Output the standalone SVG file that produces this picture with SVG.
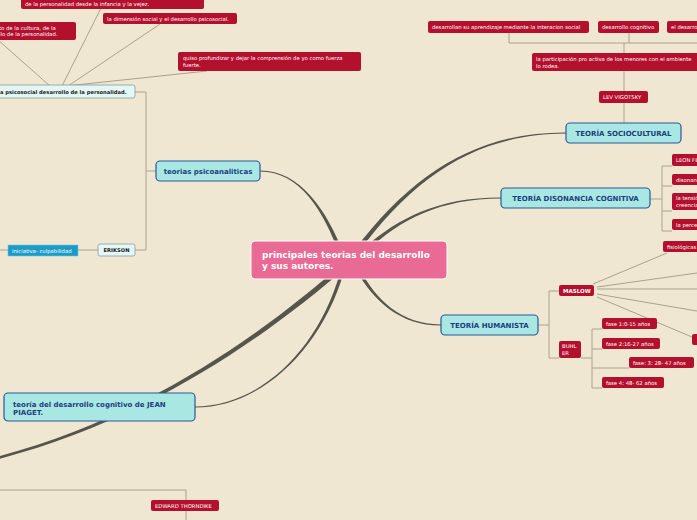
<svg xmlns="http://www.w3.org/2000/svg" width="697" height="520" viewBox="0 0 697 520">
<style>
.bg{fill:#efe7d2}
.ln{fill:none;stroke:#a8a290;stroke-width:1}
.mc{fill:#57554b;stroke:none}
.red{fill:#b3102e}
.rt{font-family:"DejaVu Sans",sans-serif;font-size:5.3px;fill:#ffffff}
.rtb{font-family:"DejaVu Sans",sans-serif;font-size:5.5px;fill:#ffffff;font-weight:bold}
.main{fill:#a9e7e3;stroke:#2b5797;stroke-width:1.2}
.mt{font-family:"DejaVu Sans",sans-serif;font-size:7px;font-weight:bold;fill:#1c3d80}
.ctr{fill:#e96a94;stroke:#ffffff;stroke-width:1}
.ct{font-family:"DejaVu Sans",sans-serif;font-size:9px;font-weight:bold;fill:#ffffff}
.lt{fill:#e2f7f6;stroke:#8a9ca2;stroke-width:0.8}
.lb{font-family:"DejaVu Sans",sans-serif;font-size:5.2px;font-weight:bold;fill:#1a1a1a}
</style>
<rect class="bg" x="0" y="0" width="697" height="520"/>
<g id="connectors">
  <path class="mc" d="M354.2,250.7 C413.7,171.1 480,132.1 566,132.4 L566,133.6 C480,134.0 416.3,172.9 357.8,253.3 Z"/>
  <path class="mc" d="M363.7,248.5 C399.1,217.0 440,197.2 501,197.5 L501,198.5 C440,198.8 400.9,219.0 366.3,251.5 Z"/>
  <path class="mc" d="M356.4,270.9 C374.0,300.6 400,325.7 441,325.5 L441,324.5 C400,324.3 376.0,299.4 359.6,269.1 Z"/>
  <path class="mc" d="M339.9,255.8 C323.6,210.5 300,171.8 260,171.6 L260,170.4 C300,170.2 326.4,209.5 344.1,254.2 Z"/>
  <path class="mc" d="M340.3,271.5 C318.8,349.7 260,406.3 195,406.5 L195,407.5 C260,407.7 321.2,350.3 343.7,272.5 Z"/>
  <path class="mc" d="M343.3,263.0 C268.6,328.3 149.6,418.4 -10.3,458.8 L-9.7,461.2 C150.4,421.6 271.4,331.7 346.7,267.0 Z"/>
  <!-- psicoanaliticas -->
  <path class="ln" d="M156,171 H146 M146,92 V250 M135,92 H146 M135,250 H146 M98,250 H78 M8,250 H0"/>
  <path class="ln" d="M50,86 L-2,40 M62,86 L101,8 M68,86 L160,24 M66,86 L207,71"/>
  <!-- sociocultural -->
  <path class="ln" d="M624,43 V123 M509,33 V43 H697 M629,33 V43"/>
  <!-- disonancia -->
  <path class="ln" d="M650,199 H662 M662,166 V231 M662,166 H672 M662,186 H672 M662,211 H672 M662,231 H672"/>
  <!-- humanista -->
  <path class="ln" d="M538,325 H549 M549,291 V358 M549,291 H559 M549,358 H559"/>
  <path class="ln" d="M581,358 H592 M592,329 V388 M592,329 H602 M592,349 H602 M592,368 H629 M592,388 H602"/>
  <path class="ln" d="M593,284 L667,253 M597,287 L697,273 M597,289 L697,289 M597,294 L697,311 M597,297 L692,337"/>
  <!-- bottom -->
  <path class="ln" d="M0,490 H186 V520"/>
</g>
<g id="center">
  <rect class="ctr" x="251" y="241" width="196" height="38" rx="4"/>
  <text class="ct" x="262" y="258">principales teorias del desarrollo</text>
  <text class="ct" x="262" y="268.5">y sus autores.</text>
</g>
<g id="sociocultural">
  <rect class="main" x="566" y="123" width="115" height="20" rx="4"/>
  <text class="mt" x="623.5" y="135.5" text-anchor="middle">TEORÍA SOCIOCULTURAL</text>
</g>
<g id="disonancia">
  <rect class="main" x="501" y="188" width="149" height="20" rx="4"/>
  <text class="mt" x="575.5" y="200.5" text-anchor="middle">TEORÍA DISONANCIA COGNITIVA</text>
</g>
<g id="humanista">
  <rect class="main" x="441" y="315" width="97" height="20" rx="4"/>
  <text class="mt" x="489.5" y="327.5" text-anchor="middle">TEORÍA HUMANISTA</text>
</g>
<g id="psicoanaliticas">
  <rect class="main" x="156" y="161" width="104" height="20" rx="4"/>
  <text class="mt" x="208" y="173.5" text-anchor="middle">teorias psicoanaliticas</text>
</g>
<g id="piaget">
  <rect class="main" x="4" y="393" width="191" height="28" rx="4"/>
  <text class="mt" x="13" y="406.5">teoría del desarrollo cognitivo de JEAN</text>
  <text class="mt" x="13" y="414.5">PIAGET.</text>
</g>
<g id="psicosocial">
  <rect class="lt" x="-6" y="85" width="141" height="13" rx="2"/>
  <text class="lb" x="0" y="93.8">a psicosocial desarrollo de la personalidad.</text>
</g>
<g id="erikson">
  <rect class="lt" x="98" y="244" width="37" height="12" rx="2"/>
  <text class="lb" x="116.5" y="252" text-anchor="middle">ERIKSON</text>
</g>
<g id="iniciativa">
  <rect x="8" y="245" width="70" height="11" fill="#1b9bc6" stroke="#6cc6e3" stroke-width="0.6"/>
  <text class="rt" x="12" y="252.5">iniciativa- culpabilidad</text>
</g>
<g id="infancia">
  <rect class="red" x="21" y="-4" width="183" height="13" rx="2"/>
  <text class="rt" x="25" y="6">de la personalidad desde la infancia y la vejez.</text>
</g>
<g id="dimension">
  <rect class="red" x="103" y="13" width="134" height="11" rx="2"/>
  <text class="rt" x="107" y="20.5">la dimensión social y el desarrollo psicosocial.</text>
</g>
<g id="cultura">
  <rect class="red" x="-10" y="22" width="86" height="18" rx="2"/>
  <text class="rt" x="-1" y="29.5">to de la cultura, de la</text>
  <text class="rt" x="-1" y="36.3">llo de la personalidad.</text>
</g>
<g id="quiso">
  <rect class="red" x="178" y="52" width="183" height="19" rx="2"/>
  <text class="rt" x="183" y="60.3">quiso profundizar y dejar la comprensión de yo como fuerza</text>
  <text class="rt" x="183" y="67.3">fuerte.</text>
</g>
<g id="interaccion">
  <rect class="red" x="428" y="21" width="161" height="12" rx="2"/>
  <text class="rt" x="432" y="29">desarrollan su aprendizaje mediante la interacion social</text>
</g>
<g id="cognitivo">
  <rect class="red" x="598" y="21" width="61" height="12" rx="2"/>
  <text class="rt" x="602" y="29">desarrollo cognitivo</text>
</g>
<g id="eldesarrollo">
  <rect class="red" x="667" y="21" width="40" height="12" rx="2"/>
  <text class="rt" x="671" y="29">el desarrollo</text>
</g>
<g id="participacion">
  <rect class="red" x="532" y="53" width="170" height="18" rx="2"/>
  <text class="rt" x="536" y="60.8">la participación pro activa de los menores con el ambiente</text>
  <text class="rt" x="536" y="67.8">lo rodea.</text>
</g>
<g id="vigotsky">
  <rect class="red" x="599" y="91" width="49" height="12" rx="2"/>
  <text class="rt" x="603" y="99">LEV VIGOTSKY</text>
</g>
<g id="leon">
  <rect class="red" x="672" y="154" width="40" height="12" rx="2"/>
  <text class="rt" x="676" y="162">LEON FESTINGER</text>
</g>
<g id="disonan">
  <rect class="red" x="672" y="174" width="40" height="11" rx="2"/>
  <text class="rt" x="676" y="181.5">disonancia</text>
</g>
<g id="tension">
  <rect class="red" x="672" y="193" width="40" height="17" rx="2"/>
  <text class="rt" x="676" y="200">la tensión</text>
  <text class="rt" x="676" y="207">creencias</text>
</g>
<g id="percepcion">
  <rect class="red" x="672" y="219" width="40" height="11" rx="2"/>
  <text class="rt" x="676" y="226.5">la percepción</text>
</g>
<g id="maslow">
  <rect class="red" x="559" y="285" width="35" height="11" rx="2"/>
  <text class="rtb" x="563" y="292.5">MASLOW</text>
</g>
<g id="fisiologicas">
  <rect class="red" x="663" y="241" width="40" height="11" rx="2"/>
  <text class="rt" x="667" y="248.5">fisiológicas</text>
</g>
<g id="maslow5">
  <rect class="red" x="692" y="334" width="10" height="11" rx="2"/>
</g>
<g id="buhler">
  <rect class="red" x="559" y="341" width="22" height="17" rx="2"/>
  <text class="rt" x="562" y="348">BUHL</text>
  <text class="rt" x="562" y="355">ER</text>
</g>
<g id="fase1">
  <rect class="red" x="602" y="318" width="55" height="11" rx="2"/>
  <text class="rt" x="606" y="325.5">fase 1:0-15 años</text>
</g>
<g id="fase2">
  <rect class="red" x="602" y="338" width="58" height="11" rx="2"/>
  <text class="rt" x="606" y="345.5">fase 2:16-27 años</text>
</g>
<g id="fase3">
  <rect class="red" x="629" y="357" width="65" height="11" rx="2"/>
  <text class="rt" x="633" y="364.5">fase: 3: 28- 47 años</text>
</g>
<g id="fase4">
  <rect class="red" x="602" y="377" width="62" height="11" rx="2"/>
  <text class="rt" x="606" y="384.5">fase 4: 48- 62 años</text>
</g>
<g id="thorndike">
  <rect class="red" x="151" y="500" width="68" height="11" rx="2"/>
  <text class="rt" x="155" y="507.5">EDWARD THORNDIKE</text>
</g>
</svg>
